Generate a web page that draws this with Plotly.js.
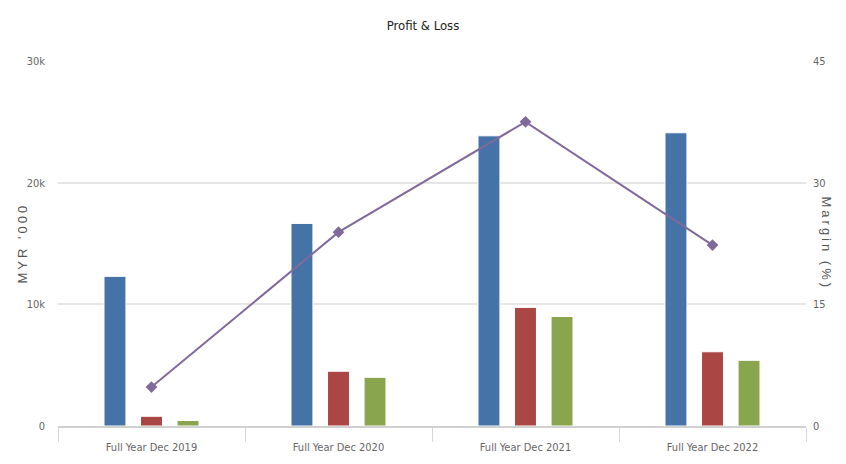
<!DOCTYPE html>
<html>
<head>
<meta charset="utf-8">
<script src="https://cdn.plot.ly/plotly-3.0.1.min.js"></script>
<style>html,body{margin:0;padding:0;background:#fff;}#chart{width:846px;height:464px;}</style>
</head>
<body>
<div id="chart"></div>
<script>
const categories = ["Full Year Dec 2019", "Full Year Dec 2020", "Full Year Dec 2021", "Full Year Dec 2022"];
const revenue = [12300, 16650, 23850, 24100];
const profitBeforeTax = [800, 4500, 9750, 6100];
const netProfit = [450, 4000, 9000, 5400];
const margin = [4.8, 23.9, 37.5, 22.3];
const leftTicks = [0, 10000, 20000, 30000];
const leftTickText = ["0", "10k", "20k", "30k"];
const rightTicks = [0, 15, 30, 45];

const narrow = "DejaVu Sans Condensed, Liberation Sans Narrow, Arial Narrow, sans-serif";
const tickFont = {family: narrow, size: 11, color: "#666666"};

const barCommon = {type: "bar", x: categories, yaxis: "y", hoverinfo: "y"};

const data = [
  Object.assign({}, barCommon, {name: "Revenue", y: revenue, marker: {color: "#4572A7", line: {color: "#ffffff", width: 1}}}),
  Object.assign({}, barCommon, {name: "Profit Before Tax", y: profitBeforeTax, marker: {color: "#AA4643", line: {color: "#ffffff", width: 1}}}),
  Object.assign({}, barCommon, {name: "Net Profit", y: netProfit, marker: {color: "#89A54E", line: {color: "#ffffff", width: 1}}}),
  {type: "scatter", mode: "lines+markers", name: "Margin", x: categories, y: margin, yaxis: "y2",
   line: {color: "#80699B", width: 2}, marker: {symbol: "diamond", size: 9, color: "#80699B"}}
];

const layout = {
  width: 846, height: 464,
  margin: {l: 58, r: 40, t: 61, b: 38},
  paper_bgcolor: "#ffffff", plot_bgcolor: "#ffffff",
  showlegend: false,
  barmode: "group",
  bargap: 0.414,
  bargroupgap: 0.4,
  title: {text: "Profit & Loss", x: 0.5, xanchor: "center", y: 0.945, yanchor: "middle",
          font: {family: narrow, size: 13, color: "#222222"}},
  xaxis: {
    type: "category",
    tickson: "boundaries",
    ticks: "outside", ticklen: 14, tickcolor: "#d8d8d8", tickwidth: 1,
    showline: true, linecolor: "#d0d0d0", linewidth: 2,
    showgrid: false, zeroline: false,
    tickfont: tickFont, ticklabelstandoff: 10,
    fixedrange: true
  },
  yaxis: {
    range: [0, 30000],
    tickvals: leftTicks, ticktext: leftTickText,
    showgrid: true, gridcolor: "#e6e6e6", gridwidth: 2,
    zeroline: false, showline: false,
    tickfont: tickFont, ticks: "", ticklabelstandoff: 12,
    fixedrange: true
  },
  yaxis2: {
    overlaying: "y", side: "right",
    range: [0, 45],
    tickvals: rightTicks,
    showgrid: false, zeroline: false, showline: false,
    tickfont: tickFont, ticklabelstandoff: 6,
    fixedrange: true
  },
  annotations: [
    {text: "<span style=\"letter-spacing:3px\">MYR '000</span>", xref: "paper", yref: "paper",
     x: -36/748, y: 0.5, xanchor: "center", yanchor: "middle", textangle: -90, showarrow: false,
     font: {family: "Liberation Sans, Arial, sans-serif", size: 13, color: "#555555"}},
    {text: "<span style=\"letter-spacing:3px\">Margin (%)</span>", xref: "paper", yref: "paper",
     x: 1 + 20/748, y: 0.5, xanchor: "center", yanchor: "middle", textangle: 90, showarrow: false,
     font: {family: "Liberation Sans, Arial, sans-serif", size: 13, color: "#555555"}}
  ]
};

Plotly.newPlot("chart", data, layout, {displayModeBar: false, staticPlot: true});
</script>
</body>
</html>
